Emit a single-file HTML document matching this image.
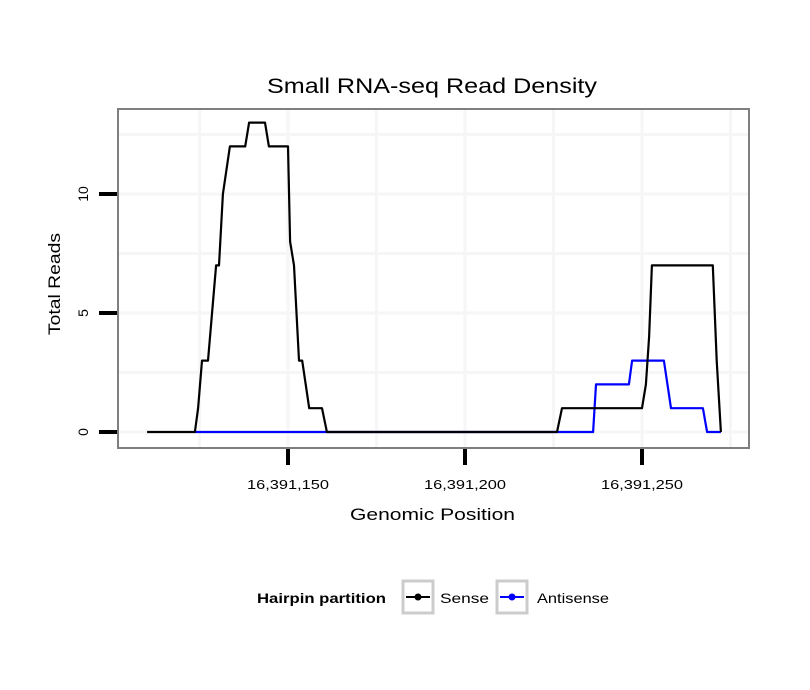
<!DOCTYPE html>
<html><head><meta charset="utf-8"><style>
body{margin:0;background:#fff;}
svg{display:block;font-family:"Liberation Sans",sans-serif;}
</style></head><body>
<svg id="chart" width="810" height="690">
<rect width="810" height="690" fill="#fff"/>
<text x="267" y="93" font-size="21" textLength="330" lengthAdjust="spacingAndGlyphs">Small RNA-seq Read Density</text>
<g id="grid"></g>
<g id="series"></g>
<rect x="118" y="109" width="631" height="339" fill="none" stroke="#7f7f7f" stroke-width="2"/>
<g id="axes"></g>
<text x="350" y="520" font-size="17" textLength="165" lengthAdjust="spacingAndGlyphs">Genomic Position</text>
<text transform="translate(60,335) rotate(-90)" font-size="17" textLength="102" lengthAdjust="spacingAndGlyphs">Total Reads</text>
<g>
<text x="257" y="603" font-size="14" font-weight="bold" textLength="129" lengthAdjust="spacingAndGlyphs">Hairpin partition</text>
<g>
<rect x="403" y="581" width="30" height="32" fill="#fff" stroke="#cccccc" stroke-width="3"/>
<line x1="406" y1="597" x2="430" y2="597" stroke="#000" stroke-width="2"/>
<circle cx="418" cy="597" r="3.5" fill="#000"/>
<text x="440" y="603" font-size="14" textLength="49" lengthAdjust="spacingAndGlyphs">Sense</text></g>
<g>
<rect x="497" y="581" width="30" height="32" fill="#fff" stroke="#cccccc" stroke-width="3"/>
<line x1="500" y1="597" x2="524" y2="597" stroke="#0000ff" stroke-width="2"/>
<circle cx="512" cy="597" r="3.5" fill="#0000ff"/>
<text x="537" y="603" font-size="14" textLength="72" lengthAdjust="spacingAndGlyphs">Antisense</text></g>
</g>
</svg>
<script>
const BASE = 16391000;
const senseX = [110.2,123.7,124.6,125.7,127.4,129.7,130.5,131.6,133.6,137.9,139.0,143.5,144.6,150.0,150.6,151.7,153.1,154.0,156.0,159.6,161.0,226.0,227.4,250.0,251.1,252.0,252.8,270.0,271.1,272.3];
const senseY = [0,0,1,3,3,7,7,10,12,12,13,13,12,12,8,7,3,3,1,1,0,0,1,1,2,4,7,7,3,0];
const antiX = [123.7,161.0,236.2,237.0,246.3,247.2,256.2,258.2,267.2,268.4,272.3];
const antiY = [0,0,0,2,2,3,3,1,1,0,0];
const xTicks = [16391150,16391200,16391250];
const xTickLabels = ["16,391,150","16,391,200","16,391,250"];
const yTicks = [0,5,10];
const yTickLabels = ["0","5","10"];
const xMinor = [16391125,16391175,16391225,16391275];
const yMinor = [2.5,7.5,12.5];

const NS="http://www.w3.org/2000/svg";
function xs(v){return 288+(v-16391150)*3.54;}
function ys(v){return 432-v*23.8;}
function mk(t,a,p){const e=document.createElementNS(NS,t);for(const k in a)e.setAttribute(k,a[k]);p.appendChild(e);return e;}
const grid=document.getElementById('grid'),ser=document.getElementById('series'),ax=document.getElementById('axes');
xMinor.concat(xTicks).forEach(v=>{const l=mk('line',{x1:xs(v),x2:xs(v),y1:110,y2:447,stroke:'#f6f6f6','stroke-width':3},grid);

});
yMinor.concat(yTicks).forEach(v=>{const l=mk('line',{x1:119,x2:748,y1:ys(v),y2:ys(v),stroke:'#f6f6f6','stroke-width':3},grid);

});
function path(xa,ya,col,name){
  const d=xa.map((x,i)=>(i?'L':'M')+xs(BASE+x).toFixed(1)+','+ys(ya[i]).toFixed(1)).join(' ');
  const p=mk('path',{d:d,fill:'none',stroke:col,'stroke-width':2.2,'stroke-linejoin':'round'},ser);
  
  
}
path(antiX,antiY,'#0000ff','antisense-line');
path(senseX,senseY,'#000','sense-line');
xTicks.forEach((v,i)=>{const l=mk('line',{x1:xs(v),x2:xs(v),y1:449,y2:465,stroke:'#000','stroke-width':4},ax);


const t=mk('text',{x:xs(v)-41,y:489,'font-size':13,textLength:82,lengthAdjust:'spacingAndGlyphs'},ax);t.textContent=xTickLabels[i];

});
yTicks.forEach((v,i)=>{const l=mk('line',{x1:99,x2:117,y1:ys(v),y2:ys(v),stroke:'#000','stroke-width':4},ax);


const t=mk('text',{transform:'translate(88,'+ys(v)+') rotate(-90)','font-size':14,'text-anchor':'middle'},ax);t.textContent=yTickLabels[i];

});
</script>
</body></html>
